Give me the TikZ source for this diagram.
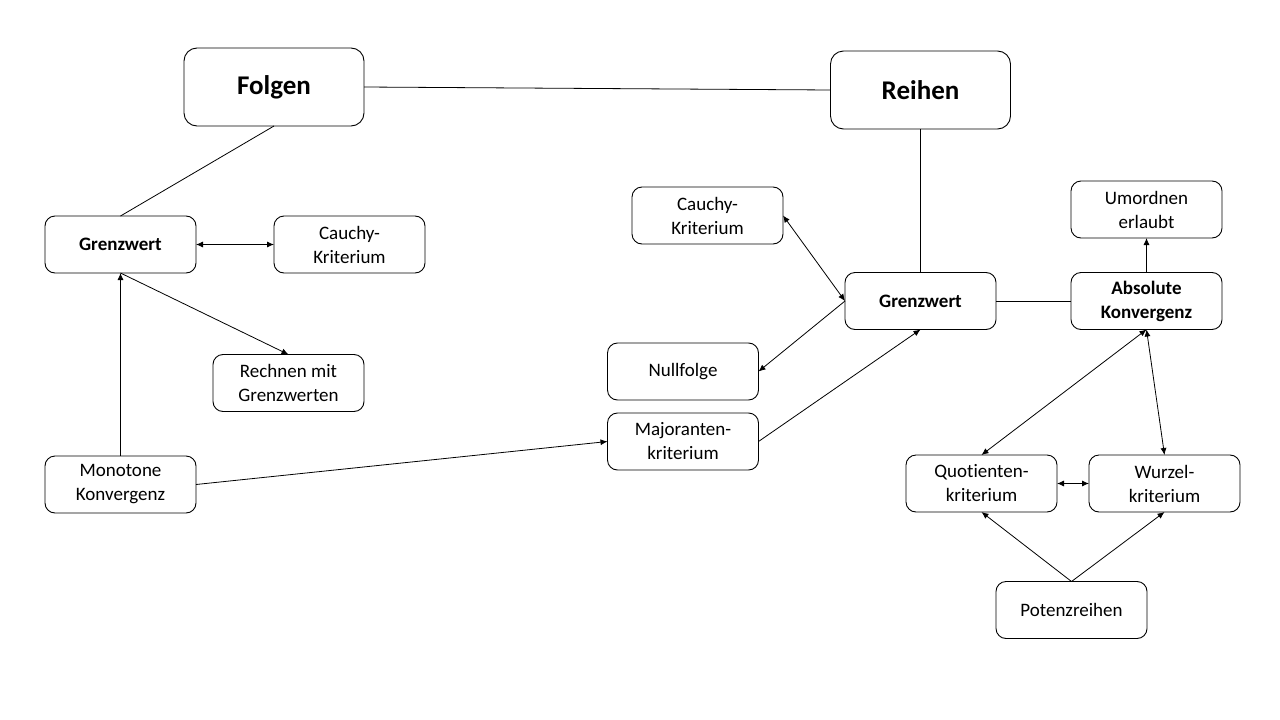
\documentclass[tikz,border=0pt]{standalone}
\usepackage{fontspec}
\setmainfont[Ligatures=NoCommon]{Carlito}
\usetikzlibrary{arrows.meta}
\begin{document}
\begin{tikzpicture}[x=1pt,y=-1pt,
  box/.style={draw,line width=0.9pt,rounded corners=10pt,align=center,
    minimum width=151pt,minimum height=57pt,inner sep=2pt,outer sep=0pt,
    font=\fontsize{19}{24}\selectfont},
  bigbox/.style={box,minimum width=180pt,minimum height=78pt,rounded corners=13pt,
    font=\fontsize{27}{30}\selectfont\bfseries},
  bbox/.style={box,font=\fontsize{19}{24}\selectfont\bfseries},
  con/.style={line width=0.8pt},
  arr/.style={con,-{Latex[length=7pt,width=6pt]}},
  darr/.style={con,{Latex[length=7pt,width=6pt]}-{Latex[length=7pt,width=6pt]}}]
\useasboundingbox (0,0) rectangle (1280,720);
\fill[white] (0,0) rectangle (1280,720);
\node[bigbox] (folgen) at (274,87) {\raisebox{-2pt}{Folgen}};
\node[bigbox] (reihen) at (920.5,90) {Reihen};
\node[bbox] (gl) at (120.5,244.5) {Grenzwert};
\node[box] (cl) at (349.5,244.5) {Cauchy-\\Kriterium};
\node[box] (rech) at (288.5,383) {Rechnen mit\\Grenzwerten};
\node[box] (mono) at (120.5,484.5) {Monotone\\Konvergenz};
\node[box] (cr) at (707.5,215.5) {Cauchy-\\Kriterium};
\node[bbox] (gr) at (920.5,301) {Grenzwert};
\node[box] (null) at (683,371.5) {Nullfolge};
\node[box] (maj) at (683,441.5) {Majoranten-\\kriterium};
\node[box] (um) at (1146.5,209.5) {Umordnen\\erlaubt};
\node[bbox] (abs) at (1146.5,301) {Absolute\\Konvergenz};
\node[box] (quot) at (981.5,483.5) {Quotienten-\\kriterium};
\node[box] (wurz) at (1164.5,483.5) {Wurzel-\\kriterium};
\node[box] (pot) at (1071.5,610) {Potenzreihen};

\draw[con] (folgen.east) -- (reihen.west);
\draw[con] (folgen.south) -- (gl.north);
\draw[con] (reihen.south) -- (gr.north);
\draw[darr] (gl.east) -- (cl.west);
\draw[arr] (gl.south) -- (rech.north);
\draw[arr] (mono.north) -- (gl.south);
\draw[arr] (mono.east) -- (maj.west);
\draw[arr] (maj.east) -- (gr.south);
\draw[arr] (gr.west) -- (null.east);
\draw[darr] (gr.west) -- (cr.east);
\draw[con] (gr.east) -- (abs.west);
\draw[arr] (abs.north) -- (um.south);
\draw[darr] (abs.south) -- (quot.north);
\draw[darr] (abs.south) -- (wurz.north);
\draw[darr] (quot.east) -- (wurz.west);
\draw[arr] (pot.north) -- (quot.south);
\draw[arr] (pot.north) -- (wurz.south);
\end{tikzpicture}
\end{document}
